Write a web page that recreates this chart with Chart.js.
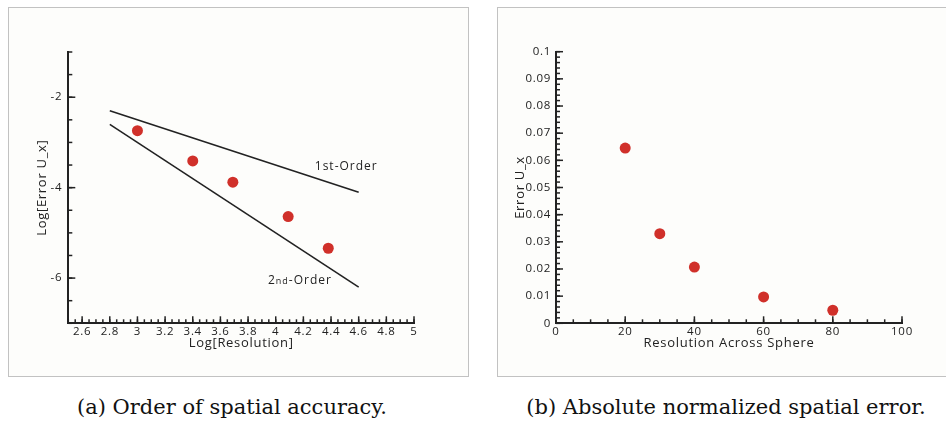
<!DOCTYPE html>
<html>
<head>
<meta charset="utf-8">
<script src="https://cdn.jsdelivr.net/npm/chart.js@4"></script>
<style>
  html, body { margin: 0; padding: 0; background: #fff; overflow: hidden; }
  body { width: 946px; height: 421px; position: relative; }
  .box { position: absolute; box-sizing: border-box; border: 1px solid #c2c2c2; background: #fdfdfb; }
  .box canvas { position: absolute; left: 0; top: 0; }
  .cap { position: absolute; font-family: "DejaVu Serif", serif; font-size: 21px; color: #111; white-space: nowrap; transform: translateX(-50%); }
</style>
</head>
<body>
<div class="box" style="left:8px; top:7px; width:461px; height:370px;">
  <canvas id="orderChart" width="459" height="368"></canvas>
</div>
<div class="box" style="left:497px; top:7px; width:452px; height:370px;">
  <canvas id="errorChart" width="450" height="368"></canvas>
</div>
<div class="cap" style="left:232px; top:395px;">(a) Order of spatial accuracy.</div>
<div class="cap" style="left:726px; top:395px;">(b) Absolute normalized spatial error.</div>

<script>
// Data
const resolution = [20, 30, 40, 60, 80];
const errorUx = [0.0645, 0.033, 0.0207, 0.0097, 0.0048];

const logResolution = [3.0, 3.4, 3.69, 4.09, 4.38];
const logError = [-2.74, -3.41, -3.88, -4.64, -5.34];

// reference slope lines
const firstOrderX = [2.8, 4.6];
const firstOrderY = [-2.3, -4.1];
const secondOrderX = [2.8, 4.6];
const secondOrderY = [-2.6, -6.2];

// tick labels
const leftXTicks = [2.6, 2.8, 3, 3.2, 3.4, 3.6, 3.8, 4, 4.2, 4.4, 4.6, 4.8, 5];
const leftYTicks = [-6, -4, -2];
const rightXTicks = [0, 20, 40, 60, 80, 100];
const rightYTicks = [0, 0.01, 0.02, 0.03, 0.04, 0.05, 0.06, 0.07, 0.08, 0.09, 0.1];

const RED = "#d0302a";
const INK = "#222";
const tickFont = { family: "'Open Sans', sans-serif", size: 11.5 };
const titleFont = { family: "'Open Sans', sans-serif", size: 13 };

function pts(xs, ys) {
  return xs.map((x, i) => ({ x: x, y: ys[i] }));
}

// a bit of tracking like the original export
const spacing = {
  id: "spacing",
  beforeDraw(chart) { chart.ctx.letterSpacing = "0.7px"; }
};

// inward tick marks, major + minor
const innerTicks = {
  id: "innerTicks",
  afterDraw(chart, args, opts) {
    const ctx = chart.ctx;
    const a = chart.chartArea;
    ctx.save();
    ctx.strokeStyle = INK;
    ctx.lineWidth = 1.5;
    const draw = (scale, vals, len) => {
      vals.forEach(v => {
        const p = scale.getPixelForValue(v);
        ctx.beginPath();
        if (scale.isHorizontal()) {
          ctx.moveTo(p, a.bottom);
          ctx.lineTo(p, a.bottom - len);
        } else {
          ctx.moveTo(a.left, p);
          ctx.lineTo(a.left + len, p);
        }
        ctx.stroke();
      });
    };
    const x = chart.scales.x, y = chart.scales.y;
    const minor = (scale, step) => {
      const out = [];
      const n = Math.round((scale.max - scale.min) / step);
      for (let i = 0; i <= n; i++) out.push(scale.min + i * step);
      return out;
    };
    draw(x, minor(x, opts.xMinor), 4);
    draw(y, minor(y, opts.yMinor), 4);
    draw(x, x.ticks.map(t => t.value), 7);
    draw(y, y.ticks.map(t => t.value), 7);
    ctx.restore();
  }
};

// line annotations "1st-Order", "2nd-Order"
const orderLabels = {
  id: "orderLabels",
  afterDatasetsDraw(chart) {
    const ctx = chart.ctx;
    const x = chart.scales.x, y = chart.scales.y;
    ctx.save();
    ctx.fillStyle = INK;
    ctx.textBaseline = "middle";
    ctx.letterSpacing = "1px";
    const big = "12px 'Open Sans', sans-serif";
    const small = "9px 'Open Sans', sans-serif";
    const drawParts = (parts, cx, cy) => {
      let w = 0;
      parts.forEach(p => { ctx.font = p[1]; w += ctx.measureText(p[0]).width; });
      let px = x.getPixelForValue(cx) - w / 2;
      const py = y.getPixelForValue(cy);
      parts.forEach(p => {
        ctx.font = p[1];
        ctx.fillText(p[0], px, py + (p[1] === small ? 1 : 0));
        px += ctx.measureText(p[0]).width;
      });
    };
    drawParts([["1st-Order", big]], 4.51, -3.53);
    drawParts([["2", big], ["nd", small], ["-Order", big]], 4.175, -6.05);
    ctx.restore();
  }
};

function axisX(min, max, labels, title) {
  return {
    type: "linear", min: min, max: max,
    afterBuildTicks: s => { s.ticks = labels.map(v => ({ value: v })); },
    afterFit: s => { s.height = 27.5; },
    grid: { drawOnChartArea: false, drawTicks: false },
    border: { display: true, color: INK, width: 2 },
    ticks: { font: tickFont, color: INK, padding: 2, maxRotation: 0, autoSkip: false, callback: v => String(v) },
    title: { display: true, text: title, font: titleFont, color: INK, padding: 0 }
  };
}

function axisY(min, max, labels, title, width, titlePad, tickPad) {
  return {
    type: "linear", min: min, max: max,
    afterBuildTicks: s => { s.ticks = labels.map(v => ({ value: v })); },
    afterFit: s => { s.width = width; },
    grid: { drawOnChartArea: false, drawTicks: false },
    border: { display: true, color: INK, width: 2 },
    ticks: { font: tickFont, color: INK, padding: tickPad, autoSkip: false, callback: v => String(v) },
    title: { display: true, text: title, font: titleFont, color: INK, padding: { top: titlePad, bottom: 0 } }
  };
}

const common = {
  responsive: false,
  animation: false,
  events: [],
  plugins: { legend: { display: false }, tooltip: { enabled: false } }
};

new Chart(document.getElementById("orderChart"), {
  type: "scatter",
  data: {
    datasets: [
      { data: pts(logResolution, logError), backgroundColor: RED, borderColor: RED, pointRadius: 5.5, borderWidth: 0 },
      { data: pts(firstOrderX, firstOrderY), showLine: true, borderColor: INK, borderWidth: 1.6, pointRadius: 0 },
      { data: pts(secondOrderX, secondOrderY), showLine: true, borderColor: INK, borderWidth: 1.6, pointRadius: 0 }
    ]
  },
  options: Object.assign({}, common, {
    layout: { padding: { left: 0, top: 44, right: 54, bottom: 25.2 } },
    scales: {
      x: axisX(2.5, 5, leftXTicks, "Log[Resolution]"),
      y: axisY(-7, -1, leftYTicks, "Log[Error U_x]", 59.3, 25, 6)
    },
    plugins: Object.assign({}, common.plugins, { innerTicks: { xMinor: 0.05, yMinor: 0.5 } })
  }),
  plugins: [spacing, innerTicks, orderLabels]
});

new Chart(document.getElementById("errorChart"), {
  type: "scatter",
  data: {
    datasets: [
      { data: pts(resolution, errorUx), backgroundColor: RED, borderColor: RED, pointRadius: 5.5, borderWidth: 0 }
    ]
  },
  options: Object.assign({}, common, {
    layout: { padding: { left: 0, top: 43.7, right: 46, bottom: 25.2 } },
    scales: {
      x: axisX(0, 100, rightXTicks, "Resolution Across Sphere"),
      y: axisY(0, 0.1, rightYTicks, "Error U_x", 58, 14.2, 5)
    },
    plugins: Object.assign({}, common.plugins, { innerTicks: { xMinor: 5, yMinor: 0.002 } })
  }),
  plugins: [spacing, innerTicks]
});
</script>
</body>
</html>
